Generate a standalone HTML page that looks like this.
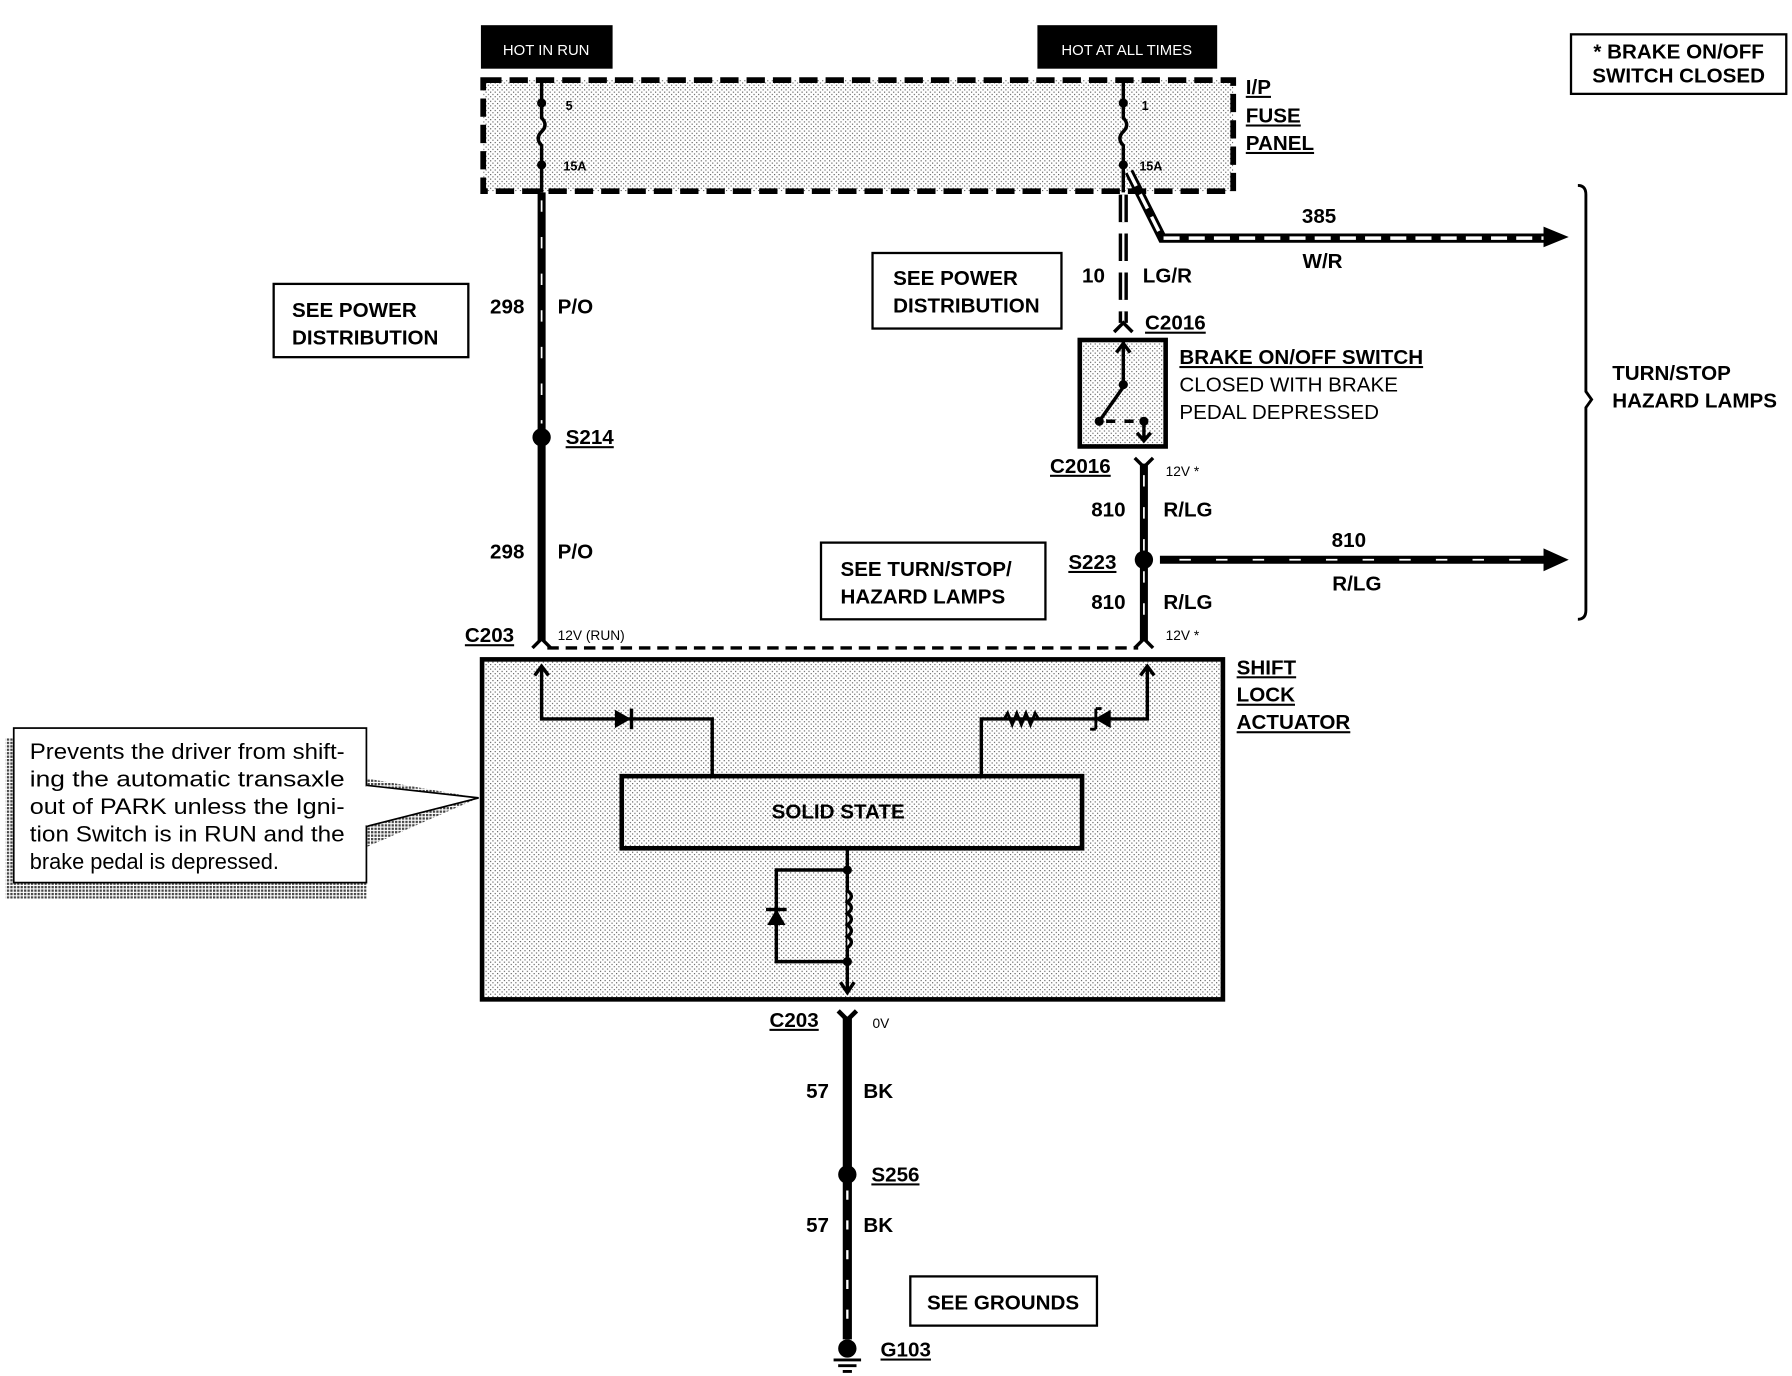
<!DOCTYPE html>
<html><head><meta charset="utf-8"><style>
html,body{margin:0;padding:0;background:#fff;width:1792px;height:1376px;overflow:hidden}
svg{display:block}
text{font-family:"Liberation Sans",Arial,sans-serif;fill:#000}
.b{font-weight:bold;font-size:18px}
.s{font-weight:bold;font-size:11px}
.n{font-size:18px}
.u{text-decoration:underline}
</style></head><body>
<svg width="1792" height="1376" viewBox="0 0 1565 1202" preserveAspectRatio="none" xmlns="http://www.w3.org/2000/svg">
<defs>
<pattern id="st" width="4" height="4" patternUnits="userSpaceOnUse"><rect width="4" height="4" fill="#fff"/><rect x="0" y="0" width="1" height="1" fill="#555"/><rect x="2" y="2" width="1" height="1" fill="#555"/></pattern>
<pattern id="sh" width="3" height="3" patternUnits="userSpaceOnUse"><rect width="3" height="3" fill="#fff"/><rect width="2" height="2" fill="#444"/></pattern>
</defs>

<rect x="420" y="22" width="115" height="38" fill="#000"/>
<text x="477" y="48" text-anchor="middle" style="fill:#fff;font-size:13px">HOT IN RUN</text>
<rect x="906" y="22" width="157" height="38" fill="#000"/>
<text x="984" y="48" text-anchor="middle" style="fill:#fff;font-size:13px">HOT AT ALL TIMES</text>
<rect x="1372" y="30" width="188" height="52" fill="#fff" stroke="#000" stroke-width="2"/>
<text x="1466" y="51" text-anchor="middle" class="b">* BRAKE ON/OFF</text>
<text x="1466" y="72" text-anchor="middle" class="b">SWITCH CLOSED</text>

<rect x="422" y="70" width="655" height="97" fill="url(#st)" stroke="#000" stroke-width="5" stroke-dasharray="16 7"/>
<g stroke="#000" stroke-width="3" fill="none">
<path d="M473 70 V103 q6 6 0 12 q-6 6 0 12 V168"/>
<path d="M981 70 V103 q6 6 0 12 q-6 6 0 12 V168"/>
</g>
<circle cx="473" cy="90" r="4"/><circle cx="473" cy="144" r="4"/>
<circle cx="981" cy="90" r="4"/><circle cx="981" cy="144" r="4"/>
<text x="494" y="96" class="s">5</text><text x="492" y="149" class="s">15A</text>
<text x="997" y="96" class="s">1</text><text x="995" y="149" class="s">15A</text>
<text x="1088" y="82" class="b u">I/P</text>
<text x="1088" y="107" class="b u">FUSE</text>
<text x="1088" y="131" class="b u">PANEL</text>

<line x1="473" y1="168" x2="473" y2="560" stroke="#000" stroke-width="7"/>
<line x1="473" y1="175" x2="473" y2="370" stroke="#fff" stroke-width="1.5" stroke-dasharray="10 22"/>
<circle cx="473" cy="382" r="8"/>
<text x="458" y="274" class="b" text-anchor="end">298</text><text x="487" y="274" class="b">P/O</text>
<text x="494" y="388" class="b u">S214</text>
<text x="458" y="488" class="b" text-anchor="end">298</text><text x="487" y="488" class="b">P/O</text>
<text x="406" y="561" class="b u">C203</text>
<text x="487" y="559" style="font-size:12px">12V (RUN)</text>
<path d="M465 566 l8 -8 l8 8" stroke="#000" stroke-width="3" fill="none"/>

<rect x="239" y="248" width="170" height="64" fill="#fff" stroke="#000" stroke-width="2"/>
<text x="255" y="277" class="b">SEE POWER</text><text x="255" y="301" class="b">DISTRIBUTION</text>

<line x1="981" y1="170" x2="981" y2="282" stroke="#000" stroke-width="8" stroke-dasharray="24 10"/>
<line x1="981" y1="170" x2="981" y2="282" stroke="#fff" stroke-width="2" stroke-dasharray="24 10"/>
<path d="M973 290 l8 -8 l8 8" stroke="#000" stroke-width="3" fill="none"/>
<text x="965" y="247" class="b" text-anchor="end">10</text><text x="998" y="247" class="b">LG/R</text>
<text x="1000" y="288" class="b u">C2016</text>

<path d="M986 150 L1015 208 H1350" stroke="#000" stroke-width="8" fill="none"/>
<path d="M986 150 L1015 208 H1350" stroke="#fff" stroke-width="3" fill="none" stroke-dasharray="14 8"/>
<path d="M1348 198 L1370 207 L1348 216 Z"/>
<text x="1152" y="195" class="b" text-anchor="middle">385</text>
<text x="1155" y="234" class="b" text-anchor="middle">W/R</text>

<rect x="762" y="221" width="165" height="66" fill="#fff" stroke="#000" stroke-width="2"/>
<text x="780" y="249" class="b">SEE POWER</text><text x="780" y="273" class="b">DISTRIBUTION</text>

<rect x="943" y="297" width="75" height="93" fill="url(#st)" stroke="#000" stroke-width="4"/>
<g stroke="#000" stroke-width="3" fill="none">
<path d="M981 298 V338 L960 368"/>
<path d="M975 308 l6 -8 l6 8"/>
<path d="M966 368 h8 M982 368 h8"/>
<path d="M999 368 V385 M993 378 l6 7 l6 -7"/>
</g>
<circle cx="981" cy="336" r="4"/><circle cx="960" cy="368" r="4"/><circle cx="999" cy="368" r="4"/>
<text x="1030" y="318" class="b u">BRAKE ON/OFF SWITCH</text>
<text x="1030" y="342" class="n">CLOSED WITH BRAKE</text>
<text x="1030" y="366" class="n">PEDAL DEPRESSED</text>

<path d="M991 400 l8 8 l8 -8" stroke="#000" stroke-width="3" fill="none"/>
<line x1="999" y1="405" x2="999" y2="560" stroke="#000" stroke-width="7"/>
<line x1="999" y1="415" x2="999" y2="555" stroke="#fff" stroke-width="1.5" stroke-dasharray="10 18"/>
<circle cx="999" cy="489" r="8"/>
<path d="M991 566 l8 -8 l8 8" stroke="#000" stroke-width="3" fill="none"/>
<text x="917" y="413" class="b u">C2016</text>
<text x="1018" y="416" style="font-size:12px">12V *</text>
<text x="983" y="451" class="b" text-anchor="end">810</text><text x="1016" y="451" class="b">R/LG</text>
<text x="933" y="497" class="b u">S223</text>
<text x="983" y="532" class="b" text-anchor="end">810</text><text x="1016" y="532" class="b">R/LG</text>
<text x="1018" y="559" style="font-size:12px">12V *</text>

<line x1="1013" y1="489" x2="1350" y2="489" stroke="#000" stroke-width="7"/>
<line x1="1030" y1="489" x2="1350" y2="489" stroke="#fff" stroke-width="1.5" stroke-dasharray="10 22"/>
<path d="M1348 479 L1370 489 L1348 499 Z"/>
<text x="1178" y="478" class="b" text-anchor="middle">810</text>
<text x="1185" y="516" class="b" text-anchor="middle">R/LG</text>

<rect x="717" y="474" width="196" height="67" fill="#fff" stroke="#000" stroke-width="2"/>
<text x="734" y="503" class="b">SEE TURN/STOP/</text><text x="734" y="527" class="b">HAZARD LAMPS</text>

<path d="M1378 162 q7 0 7 8 V342 l5 7 l-5 7 V533 q0 8 -7 8" stroke="#000" stroke-width="2.5" fill="none"/>
<text x="1408" y="332" class="b">TURN/STOP</text>
<text x="1408" y="356" class="b">HAZARD LAMPS</text>

<line x1="478" y1="566" x2="994" y2="566" stroke="#000" stroke-width="3" stroke-dasharray="10 6"/>

<rect x="421" y="576" width="647" height="297" fill="url(#st)" stroke="#000" stroke-width="4"/>
<text x="1080" y="589" class="b u">SHIFT</text>
<text x="1080" y="613" class="b u">LOCK</text>
<text x="1080" y="637" class="b u">ACTUATOR</text>
<g stroke="#000" stroke-width="3" fill="none">
<path d="M473 582 V628 H622 V678"/>
<path d="M467 590 l6 -8 l6 8"/>
<path d="M1002 582 V628 H857 V678"/>
<path d="M996 590 l6 -8 l6 8"/>
<path d="M877 628 l3 -5 l4 10 l4 -10 l4 10 l4 -10 l4 10 l4 -10 l3 5" stroke-width="2.5"/>
<path d="M740 741 V865"/>
<path d="M734 858 l6 9 l6 -9"/>
<path d="M740 760 H678 V840 H740"/>
<path d="M740 778 q7 5 0 10 q7 5 0 10 q7 5 0 10 q7 5 0 10 q7 5 0 10" fill="#fff"/>
</g>
<path d="M537 620 L551 628 L537 636 Z"/><rect x="550" y="619" width="3" height="18"/>
<path d="M970 620 L956 628 L970 636 Z"/><path d="M957 619 V637 M952 637 l5 0 M957 619 l5 0" stroke="#000" stroke-width="2.5"/>
<path d="M670 808 L678 794 L686 808 Z"/><rect x="669" y="793" width="18" height="3"/>
<circle cx="740" cy="760" r="4"/><circle cx="740" cy="840" r="4"/>
<rect x="543" y="678" width="402" height="63" fill="url(#st)" stroke="#000" stroke-width="4"/>
<text x="732" y="715" class="b" text-anchor="middle">SOLID STATE</text>

<path d="M732 883 l8 8 l8 -8" stroke="#000" stroke-width="4" fill="none"/>
<line x1="740" y1="888" x2="740" y2="1170" stroke="#000" stroke-width="8"/>
<line x1="740" y1="1040" x2="740" y2="1165" stroke="#fff" stroke-width="2" stroke-dasharray="8 18"/>
<circle cx="740" cy="1026" r="8"/>
<text x="672" y="897" class="b u">C203</text>
<text x="762" y="898" style="font-size:12px">0V</text>
<text x="724" y="959" class="b" text-anchor="end">57</text><text x="754" y="959" class="b">BK</text>
<text x="761" y="1032" class="b u">S256</text>
<text x="724" y="1076" class="b" text-anchor="end">57</text><text x="754" y="1076" class="b">BK</text>
<rect x="795" y="1115" width="163" height="43" fill="#fff" stroke="#000" stroke-width="2"/>
<text x="876" y="1144" class="b" text-anchor="middle">SEE GROUNDS</text>
<circle cx="740" cy="1178" r="8"/>
<path d="M728 1188 h24 M732 1193 h16 M736 1198 h8" stroke="#000" stroke-width="2.5"/>
<text x="769" y="1185" class="b u">G103</text>

<path d="M320 680 L418 697 L320 740 Z" fill="url(#sh)"/>
<rect x="5" y="645" width="315" height="140" fill="url(#sh)"/>
<rect x="12" y="636" width="308" height="135" fill="#fff" stroke="#000" stroke-width="1.5"/>
<path d="M320 686 L418 697 L320 722" fill="#fff" stroke="#000" stroke-width="1.5"/>
<line x1="320" y1="687" x2="320" y2="721" stroke="#fff" stroke-width="3"/>
<g class="n" style="font-size:19px">
<text x="26" y="663" textLength="275" lengthAdjust="spacingAndGlyphs">Prevents the driver from shift-</text>
<text x="26" y="687" textLength="275" lengthAdjust="spacingAndGlyphs">ing the automatic transaxle</text>
<text x="26" y="711" textLength="275" lengthAdjust="spacingAndGlyphs">out of PARK unless the Igni-</text>
<text x="26" y="735" textLength="275" lengthAdjust="spacingAndGlyphs">tion Switch is in RUN and the</text>
<text x="26" y="759">brake pedal is depressed.</text>
</g>
</svg>
</body></html>
